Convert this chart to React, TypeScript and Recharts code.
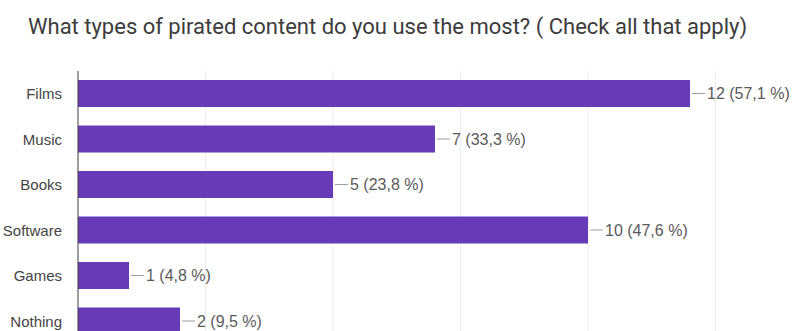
import { BarChart, Bar, XAxis, YAxis, CartesianGrid, LabelList } from "recharts";

const categories = ["Films", "Music", "Books", "Software", "Games", "Nothing"];
const counts = [12, 7, 5, 10, 1, 2];
const percents = ["57,1", "33,3", "23,8", "47,6", "4,8", "9,5"];
const xTicks = [0, 2.5, 5, 7.5, 10, 12.5, 15];

const data = categories.map((name, i) => ({
  name,
  count: counts[i],
  pct: percents[i],
}));

const ValueLabel = (props: any) => {
  const { x, y, width, height, index } = props;
  const endX = x + width;
  const midY = y + height / 2;
  return (
    <g>
      <line x1={endX + 2} y1={midY} x2={endX + 15} y2={midY} stroke="#9e9e9e" strokeWidth={1} />
      <text
        x={endX + 17}
        y={midY}
        dy="0.35em"
        fontSize={16}
        fill="#5a5a5a"
        fontFamily="Arial, 'Liberation Sans', sans-serif"
      >
        {`${counts[index]} (${percents[index]} %)`}
      </text>
    </g>
  );
};

export default function App() {
  return (
    <div
      style={{
        position: "absolute",
        left: 0,
        top: 0,
        width: 792,
        height: 331,
        overflow: "hidden",
        background: "#fff",
      }}
    >
      <div
        style={{
          position: "absolute",
          left: 28,
          top: 14,
          fontFamily: "Roboto, sans-serif",
          fontSize: 22,
          lineHeight: "26px",
          color: "#3c3c3c",
          whiteSpace: "nowrap",
        }}
      >
        What types of pirated content do you use the most? ( Check all that apply)
      </div>
      <div style={{ position: "absolute", left: 0, top: 0 }}>
        <BarChart
          width={860}
          height={344}
          data={data}
          layout="vertical"
          margin={{ top: 71, right: 17, bottom: 0, left: 0 }}
        >
          <CartesianGrid horizontal={false} stroke="#ececec" />
          <XAxis type="number" domain={[0, 15]} ticks={xTicks} hide />
          <YAxis
            type="category"
            dataKey="name"
            width={78}
            tickLine={false}
            tickSize={0}
            tickMargin={16}
            axisLine={{ stroke: "#444" }}
            tick={{ fontSize: 15, fill: "#444", fontFamily: "Arial, 'Liberation Sans', sans-serif" }}
          />
          <Bar dataKey="count" fill="#673ab7" barSize={27} isAnimationActive={false}>
            <LabelList dataKey="count" content={<ValueLabel />} />
          </Bar>
        </BarChart>
      </div>
    </div>
  );
}
